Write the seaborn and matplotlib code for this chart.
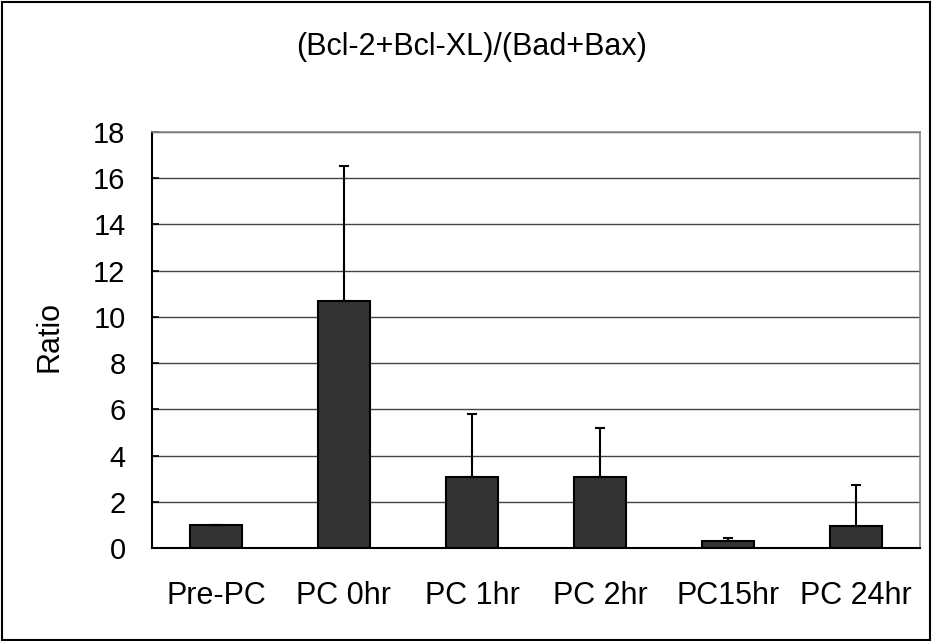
import matplotlib
matplotlib.use("Agg")
import matplotlib.pyplot as plt
import matplotlib.patches as mpatches
import numpy as np
import pandas as pd
import seaborn as sns

categories = ["Pre-PC", "PC 0hr", "PC 1hr", "PC 2hr", "PC15hr", "PC 24hr"]
ratios = [1.0, 10.7, 3.07, 3.07, 0.29, 0.97]
upper_err = [0.0, 5.85, 2.72, 2.12, 0.13, 1.77]
yticks = [0, 2, 4, 6, 8, 10, 12, 14, 16, 18]

sns.set_theme(style="white")
plt.rcParams['font.family'] = ['Liberation Sans', 'DejaVu Sans']
plt.rcParams['text.color'] = 'black'
plt.rcParams['xtick.color'] = 'black'
plt.rcParams['ytick.color'] = 'black'
plt.rcParams['axes.labelcolor'] = 'black'

fig = plt.figure(figsize=(9.32, 6.41), dpi=100)
ax = fig.add_axes([152/932, 1-548/641, (920-152)/932, (548-132)/641])

df = pd.DataFrame({"cat": categories, "ratio": ratios})
sns.barplot(data=df, x="cat", y="ratio", color="#333333", edgecolor="black",
            linewidth=1.5, width=0.4, saturation=1, ax=ax, zorder=3)
xs = np.arange(len(categories))
ax.errorbar(xs, ratios, yerr=[np.zeros(len(ratios)), upper_err], fmt="none",
            ecolor="black", elinewidth=1.5, capsize=3.6, capthick=1.5, zorder=4)

ax.set_ylim(0, 18)
ax.set_xlim(-0.5, len(categories) - 0.5)
ax.set_yticks(yticks)
ax.set_yticklabels([str(t) for t in yticks], fontsize=21, color="black")
ax.yaxis.grid(True, color="#444444", linewidth=1.0, zorder=0)
ax.set_axisbelow(True)

ax.set_xticks(xs)
ax.set_xticklabels(categories, fontsize=22, color="black")
ax.tick_params(axis="x", which="major", length=0, pad=24)
ax.set_xticks(np.arange(-0.5, len(categories), 1.0), minor=True)
ax.tick_params(axis="x", which="minor", direction="in", length=8, width=1.2, color="black")
ax.tick_params(axis="y", which="major", direction="in", length=5, width=1.2, color="black", pad=19, left=True)

ax.set_xlabel("")
ax.set_ylabel("")
fig.text(50/932, 1-337/641, "Ratio", rotation=90, ha="center", va="center", fontsize=22, color="black")

for s in ["left", "bottom"]:
    ax.spines[s].set_color("black")
    ax.spines[s].set_linewidth(1.5)
for s in ["top", "right"]:
    ax.spines[s].set_color("#888888")
    ax.spines[s].set_linewidth(1.2)
    ax.spines[s].set_visible(True)

fig.text(472/932, 1-55/641, "(Bcl-2+Bcl-XL)/(Bad+Bax)", ha="center", va="baseline", fontsize=22, color="black")

border = mpatches.Rectangle((0.002, 0.002), 0.996, 0.995, transform=fig.transFigure,
                            fill=False, edgecolor="black", linewidth=1.5)
fig.patches.append(border)

fig.savefig("out.png", dpi=100)
